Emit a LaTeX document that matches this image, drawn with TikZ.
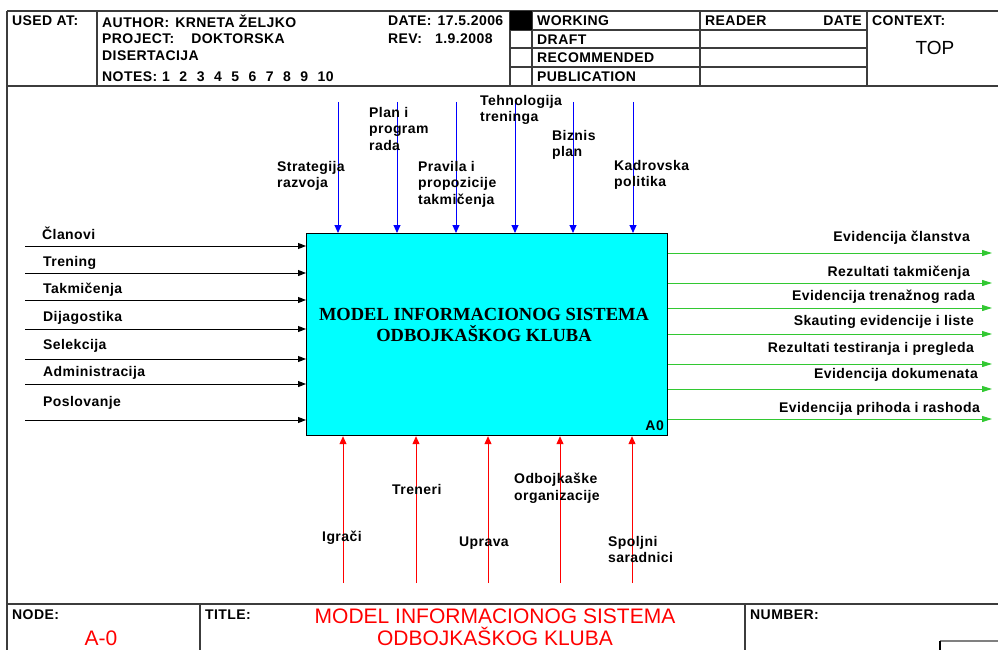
\documentclass[tikz,border=0pt]{standalone}
\usepackage{fontspec}
\setmainfont{Liberation Sans}[LetterSpace=3]
\newfontfamily\boxfont{Liberation Serif}
\newfontfamily\plainfont{Liberation Sans}
\usetikzlibrary{arrows.meta}
\definecolor{boxcyan}{RGB}{0,255,255}
\definecolor{outgreen}{RGB}{50,200,50}
\definecolor{frameline}{RGB}{60,60,60}
\tikzset{
  lbl/.style={font=\bfseries\fontsize{14}{16.5}\selectfont, inner sep=0pt, align=left},
  rlbl/.style={lbl, anchor=east},
  frm/.style={draw=frameline, line width=1.1pt},
  inarr/.style={line width=1pt, -{Triangle[length=8pt,width=6pt]}},
  ctlarr/.style={blue, line width=1pt, -{Triangle[length=8pt,width=7pt]}},
  mecharr/.style={red, line width=1pt, -{Triangle[length=8pt,width=7pt]}},
  outarr/.style={outgreen, line width=1pt, -{Triangle[length=10pt,width=6pt]}}
}
\begin{document}
\begin{tikzpicture}[x=1pt,y=-1pt]
        \useasboundingbox (0,0) rectangle (998,650);
        % header frame
        \draw [frm] (7,11)--(998,11);
        \draw [frm] (7,86)--(998,86);
        \draw [frm] (7,11)--(7,650);
        \draw [frm] (97,11)--(97,86);
        \draw [frm] (510,11)--(510,86);
        \draw [frm] (532,11)--(532,86);
        \draw [frm] (700,11)--(700,86);
        \draw [frm] (867,11)--(867,86);
        \draw [frm] (510,30)--(867,30);
        \draw [frm] (510,48)--(867,48);
        \draw [frm] (510,67)--(867,67);
        \fill [black] (510,11) rectangle (532,30);
        \node [lbl,anchor=west] (usedat) at (12,21) {USED AT:};
        \node [lbl,anchor=west] (author) at (102,21) {AUTHOR:\hspace{6pt}KRNETA ŽELJKO};
        \node [lbl,anchor=west] (project) at (102,39) {PROJECT:\hspace{17pt}DOKTORSKA};
        \node [lbl,anchor=west] (disert) at (102,56) {DISERTACIJA};
        \node [lbl,anchor=west] (notes) at (102,77) {NOTES:\hspace{5pt}1\hspace{9.5pt}2\hspace{9.5pt}3\hspace{9.5pt}4\hspace{9.5pt}5\hspace{9.5pt}6\hspace{9.5pt}7\hspace{9.5pt}8\hspace{9.5pt}9\hspace{9.5pt}10};
        \node [lbl,anchor=west] (date) at (388,21) {DATE:\hspace{6pt}17.5.2006};
        \node [lbl,anchor=west] (rev) at (388,39) {REV:\hspace{13pt}1.9.2008};
        \node [lbl,anchor=west] (working) at (537,21) {WORKING};
        \node [lbl,anchor=west] (draft) at (537,40) {DRAFT};
        \node [lbl,anchor=west] (recomm) at (537,58) {RECOMMENDED};
        \node [lbl,anchor=west] (public) at (537,77) {PUBLICATION};
        \node [lbl,anchor=west] (reader) at (705,21) {READER};
        \node [lbl,anchor=east] (rdate) at (862,21) {DATE};
        \node [lbl,anchor=west] (context) at (872,21) {CONTEXT:};
        \node [inner sep=0pt,font=\plainfont\fontsize{19}{22}\selectfont] (top) at (935,48) {TOP};
        % footer frame
        \draw [frm] (7,604)--(998,604);
        \draw [frm] (200,604)--(200,650);
        \draw [frm] (745,604)--(745,650);
        \draw [draw=gray, line width=1.1pt] (940,641)--(998,641);
        \draw [line width=1.1pt] (940,641)--(940,650);
        \node [lbl,anchor=west] (nodelbl) at (12,615) {NODE:};
        \node [lbl,anchor=west] (titlelbl) at (205,615) {TITLE:};
        \node [lbl,anchor=west] (numberlbl) at (750,615) {NUMBER:};
        \node [inner sep=0pt,red,font=\plainfont\fontsize{21}{22}\selectfont] (nodenum) at (101,638) {A-0};
        \node [inner sep=0pt,red,align=center,font=\plainfont\fontsize{21}{22}\selectfont] (footertitle) at (495,627) {MODEL INFORMACIONOG SISTEMA\\ODBOJKAŠKOG KLUBA};
        % activity box
        \node [draw, line width=1.2pt, fill=boxcyan, anchor=north west, minimum width=361pt, minimum height=202pt] (A0box) at (306,233) {};
        \node [align=center, inner sep=0pt, font=\boxfont\bfseries\fontsize{18.5}{21}\selectfont] (boxtitle) at (484,325) {MODEL INFORMACIONOG SISTEMA\\ODBOJKAŠKOG KLUBA};
        \node [lbl,anchor=south east] (boxnum) at (664,431) {A0};
        % inputs
        \coordinate (in1) at (25,246);
        \coordinate (in2) at (25,273);
        \coordinate (in3) at (25,300);
        \coordinate (in4) at (25,329);
        \coordinate (in5) at (25,359);
        \coordinate (in6) at (25,384);
        \coordinate (in7) at (25,420);
        \draw [inarr] (in1)--(in1 -| A0box.west);
        \draw [inarr] (in2)--(in2 -| A0box.west);
        \draw [inarr] (in3)--(in3 -| A0box.west);
        \draw [inarr] (in4)--(in4 -| A0box.west);
        \draw [inarr] (in5)--(in5 -| A0box.west);
        \draw [inarr] (in6)--(in6 -| A0box.west);
        \draw [inarr] (in7)--(in7 -| A0box.west);
        \node [lbl,anchor=west] (clanovi) at (42,233) {Članovi};
        \node [lbl,anchor=west] (trening) at (43,263) {Trening};
        \node [lbl,anchor=west] (takmicenja) at (43,290) {Takmičenja};
        \node [lbl,anchor=west] (dijagostika) at (43,318) {Dijagostika};
        \node [lbl,anchor=west] (selekcija) at (43,346) {Selekcija};
        \node [lbl,anchor=west] (administr) at (43,373) {Administracija};
        \node [lbl,anchor=west] (poslovanje) at (43,403) {Poslovanje};
        % controls
        \coordinate (ctl1) at (338,102);
        \coordinate (ctl2) at (397,102);
        \coordinate (ctl3) at (456,102);
        \coordinate (ctl4) at (515,102);
        \coordinate (ctl5) at (573,102);
        \coordinate (ctl6) at (633,102);
        \draw [ctlarr] (ctl1)--(ctl1 |- A0box.north);
        \draw [ctlarr] (ctl2)--(ctl2 |- A0box.north);
        \draw [ctlarr] (ctl3)--(ctl3 |- A0box.north);
        \draw [ctlarr] (ctl4)--(ctl4 |- A0box.north);
        \draw [ctlarr] (ctl5)--(ctl5 |- A0box.north);
        \draw [ctlarr] (ctl6)--(ctl6 |- A0box.north);
        \node [lbl,anchor=north west] (strategija) at (277,161) {Strategija\\razvoja};
        \node [lbl,anchor=north west] (planrada) at (369,107) {Plan i\\program\\rada};
        \node [lbl,anchor=north west] (pravila) at (418,161) {Pravila i\\propozicije\\takmičenja};
        \node [lbl,anchor=north west] (tehnologija) at (480,95) {Tehnologija\\treninga};
        \node [lbl,anchor=north west] (biznis) at (552,130) {Biznis\\plan};
        \node [lbl,anchor=north west] (kadrovska) at (614,160) {Kadrovska\\politika};
        % mechanisms
        \coordinate (mech1) at (343,583);
        \coordinate (mech2) at (416,583);
        \coordinate (mech3) at (488,583);
        \coordinate (mech4) at (560,583);
        \coordinate (mech5) at (632,583);
        \draw [mecharr] (mech1)--(mech1 |- A0box.south);
        \draw [mecharr] (mech2)--(mech2 |- A0box.south);
        \draw [mecharr] (mech3)--(mech3 |- A0box.south);
        \draw [mecharr] (mech4)--(mech4 |- A0box.south);
        \draw [mecharr] (mech5)--(mech5 |- A0box.south);
        \node [lbl,anchor=west] (igraci) at (322,538) {Igrači};
        \node [lbl,anchor=west] (treneri) at (392,489) {Treneri};
        \node [lbl,anchor=west] (uprava) at (459,543) {Uprava};
        \node [lbl,anchor=north west] (odbojkaske) at (514,473) {Odbojkaške\\organizacije};
        \node [lbl,anchor=north west] (spoljni) at (608,536) {Spoljni\\saradnici};
        % outputs
        \coordinate (out1) at (992,253);
        \coordinate (out2) at (992,283);
        \coordinate (out3) at (992,308);
        \coordinate (out4) at (992,334);
        \coordinate (out5) at (992,364);
        \coordinate (out6) at (992,389);
        \coordinate (out7) at (992,419);
        \draw [outarr] (out1 -| A0box.east)--(out1);
        \draw [outarr] (out2 -| A0box.east)--(out2);
        \draw [outarr] (out3 -| A0box.east)--(out3);
        \draw [outarr] (out4 -| A0box.east)--(out4);
        \draw [outarr] (out5 -| A0box.east)--(out5);
        \draw [outarr] (out6 -| A0box.east)--(out6);
        \draw [outarr] (out7 -| A0box.east)--(out7);
        \node [rlbl] (evclanstva) at (970,238) {Evidencija članstva};
        \node [rlbl] (rezultati) at (970,273) {Rezultati takmičenja};
        \node [rlbl] (evtrenazni) at (975,297) {Evidencija trenažnog rada};
        \node [rlbl] (skauting) at (974,322) {Skauting evidencije i liste};
        \node [rlbl] (testiranja) at (974,349) {Rezultati testiranja i pregleda};
        \node [rlbl] (dokumenti) at (978,375) {Evidencija dokumenata};
        \node [rlbl] (prihodi) at (980,409) {Evidencija prihoda i rashoda};
\end{tikzpicture}
\end{document}
